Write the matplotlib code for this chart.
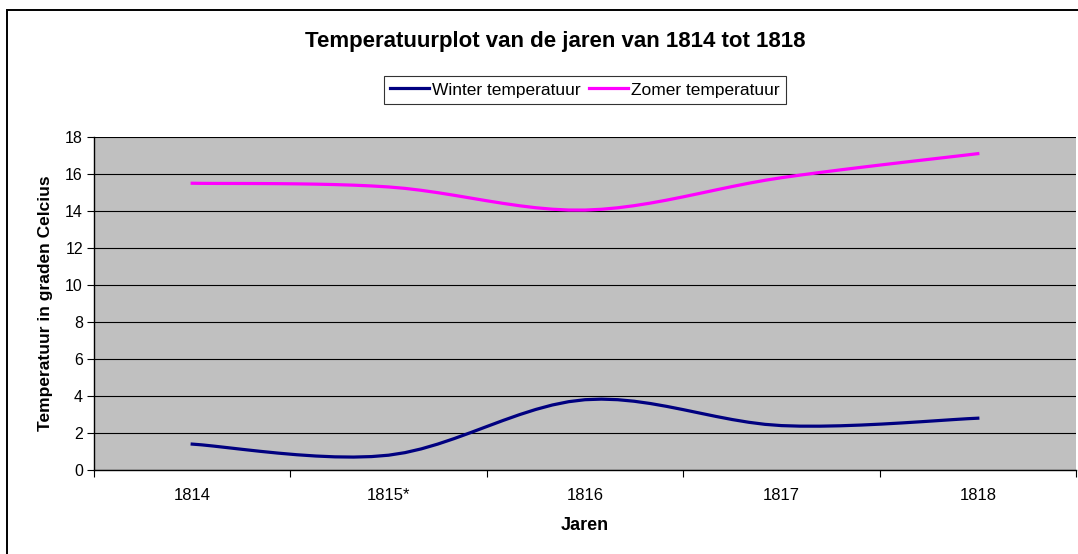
import numpy as np
import matplotlib
matplotlib.use('Agg')
import matplotlib.pyplot as plt
from matplotlib.patches import Rectangle

plt.rcParams['font.family'] = ['Liberation Sans', 'DejaVu Sans']

# Gegevens
jaren = ['1814', '1815*', '1816', '1817', '1818']
winter = [1.4, 0.8, 3.8, 2.4, 2.8]
zomer = [15.5, 15.3, 14.05, 15.8, 17.1]


def glad(y, n=12):
    """ Excel-achtige gladde lijn (Catmull-Rom) door de punten """
    y = np.asarray(y, dtype=float)
    x = np.arange(len(y), dtype=float)
    px = np.concatenate([[x[0]], x, [x[-1]]])
    py = np.concatenate([[y[0]], y, [y[-1]]])
    xs, ys = [], []
    for i in range(len(y) - 1):
        p0, p1, p2, p3 = px[i], px[i + 1], px[i + 2], px[i + 3]
        q0, q1, q2, q3 = py[i], py[i + 1], py[i + 2], py[i + 3]
        t = np.linspace(0, 1, n, endpoint=(i == len(y) - 2))
        c1x, c1y = p1 + (p2 - p0) / 6, q1 + (q2 - q0) / 6
        c2x, c2y = p2 - (p3 - p1) / 6, q2 - (q3 - q1) / 6
        b = lambda a, c, d, e: ((1 - t) ** 3 * a + 3 * (1 - t) ** 2 * t * c
                                + 3 * (1 - t) * t ** 2 * d + t ** 3 * e)
        xs.append(b(p1, c1x, c2x, p2))
        ys.append(b(q1, c1y, c2y, q2))
    return np.concatenate(xs), np.concatenate(ys)


fig = plt.figure(figsize=(10.78, 5.54), dpi=100)
fig.patches.append(Rectangle((7 / 1078, -0.01), 1.1, 1 - 10 / 554 + 0.01,
                             transform=fig.transFigure, fill=False,
                             edgecolor='black', linewidth=1.4))

ax = fig.add_axes([94 / 1078, 1 - 470 / 554, (1076 - 94) / 1078, (470 - 137) / 554])
ax.set_facecolor('#c0c0c0')

wx, wy = glad(winter)
zx, zy = glad(zomer)
ax.plot(wx, wy, color='#000080', linewidth=2.3, label='Winter temperatuur')
ax.plot(zx, zy, color='#ff00ff', linewidth=2.3, label='Zomer temperatuur')

ax.set_xlim(-0.5, len(jaren) - 0.5)
ax.set_ylim(0, 18)
ax.set_yticks(np.arange(0, 19, 2))
ax.set_xticks(np.arange(len(jaren)))
ax.set_xticklabels(jaren)
ax.set_xticks(np.arange(len(jaren) + 1) - 0.5, minor=True)
ax.tick_params(axis='x', which='major', length=0, pad=13, labelsize=12)
ax.tick_params(axis='x', which='minor', length=5, direction='out', width=0.8)
ax.tick_params(axis='y', length=5, direction='out', width=0.8, labelsize=11.5, pad=3)
ax.grid(axis='y', color='black', linewidth=0.8)
ax.set_axisbelow(True)
for s in ['top', 'right']:
    ax.spines[s].set_visible(False)
ax.spines['left'].set_linewidth(1.0)
ax.spines['bottom'].set_linewidth(1.0)

ax.set_xlabel('Jaren', fontweight='bold', fontsize=13, labelpad=10)
ax.set_ylabel('Temperatuur in graden Celcius', fontweight='bold', fontsize=12.5, labelpad=9)
fig.text(555 / 1078, 1 - 42 / 554, 'Temperatuurplot van de jaren van 1814 tot 1818',
         ha='center', va='center', fontsize=16, fontweight='bold')

leg = ax.legend(loc='center', bbox_to_anchor=(585 / 1078, 1 - 90 / 554),
                bbox_transform=fig.transFigure, ncol=2, frameon=True, fancybox=False,
                edgecolor='black', fontsize=12.5, handlelength=2.2, handletextpad=0.2,
                columnspacing=0.5, borderpad=0.35)
leg.get_frame().set_linewidth(0.8)

plt.savefig('out.png', dpi=100)
